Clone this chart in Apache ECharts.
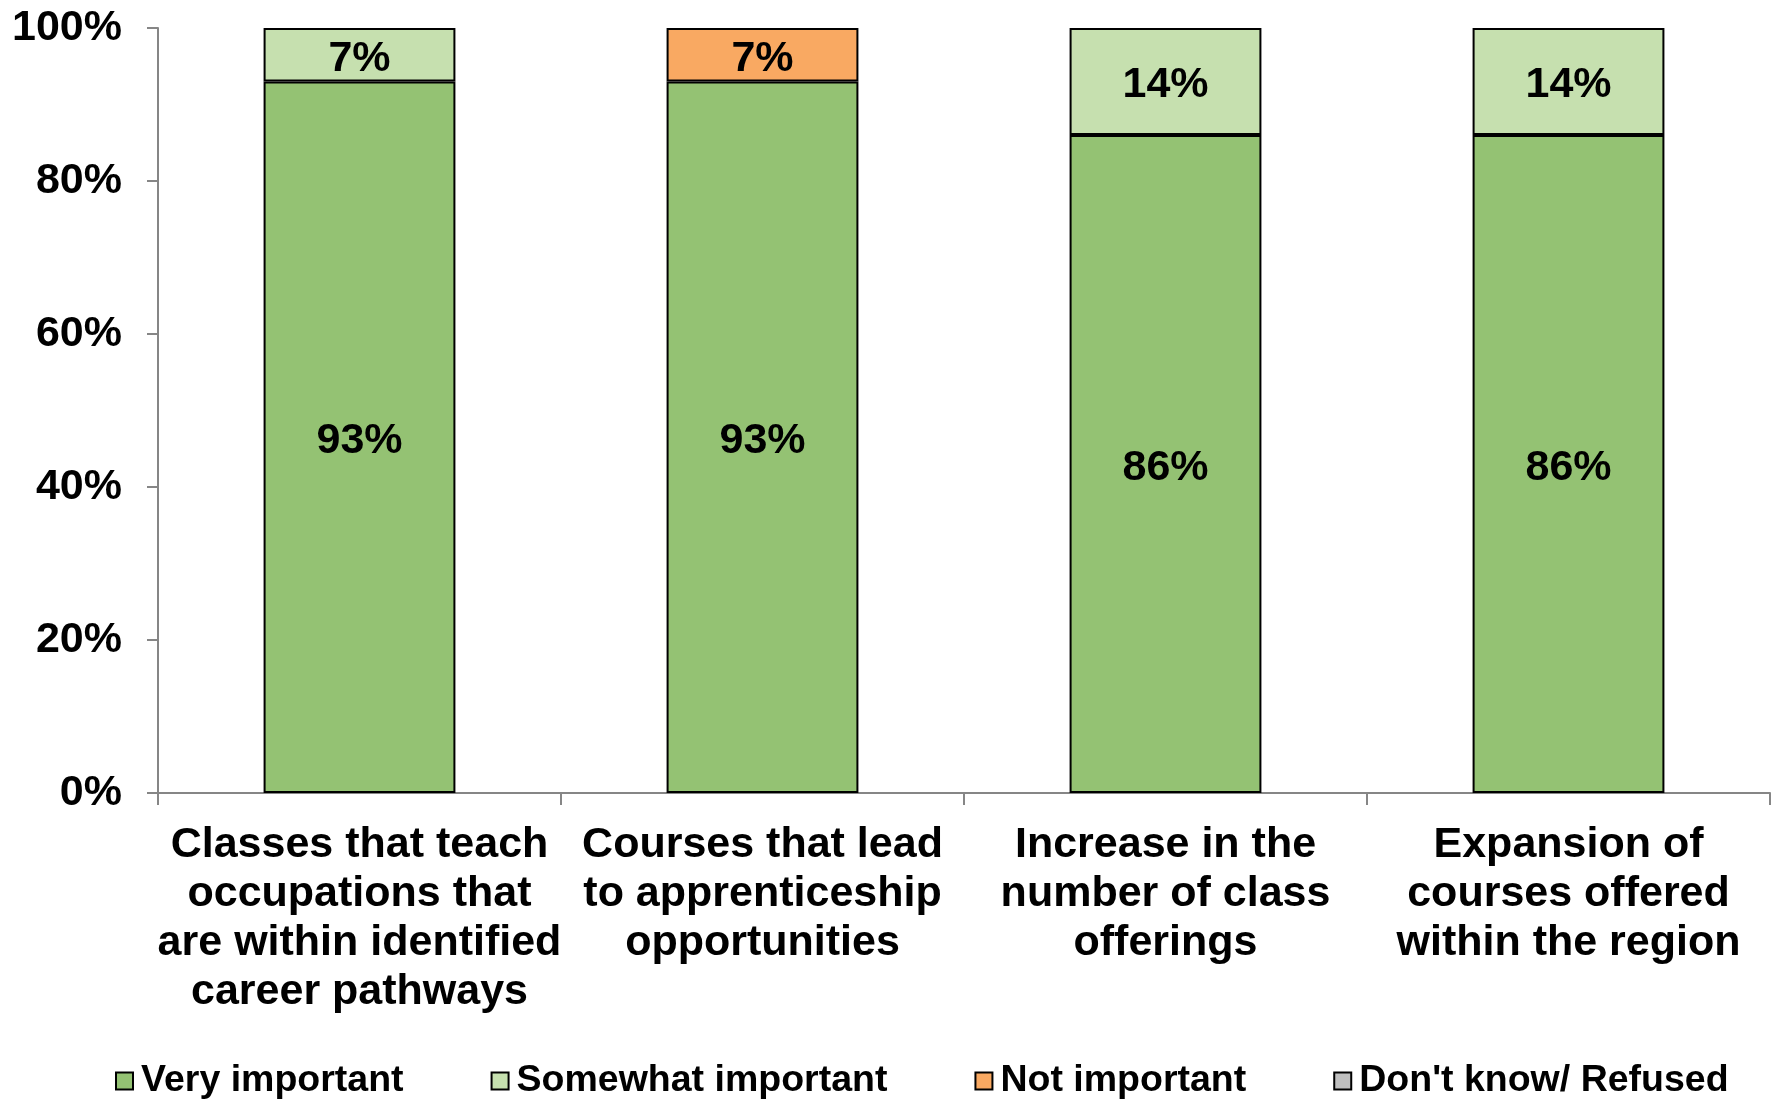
<!DOCTYPE html>
<html>
<head>
<meta charset="utf-8">
<script src="https://cdn.jsdelivr.net/npm/echarts@6/dist/echarts.min.js"></script>
<style>
html,body{margin:0;padding:0;background:#fff;}
#chart{width:1771px;height:1100px;}
</style>
</head>
<body>
<div id="chart"></div>
<script>
const categories = [
  "Classes that teach\noccupations that\nare within identified\ncareer pathways",
  "Courses that lead\nto apprenticeship\nopportunities",
  "Increase in the\nnumber of class\nofferings",
  "Expansion of\ncourses offered\nwithin the region"
];
const seriesNames = ["Very important", "Somewhat important", "Not important", "Don't know/ Refused"];
const veryImportant = [93, 93, 86, 86];
const somewhatImportant = [7, 0, 14, 14];
const notImportant = [0, 7, 0, 0];
const dontKnow = [0, 0, 0, 0];
const yTicks = [0, 20, 40, 60, 80, 100];

const colors = ["#94C273", "#C6E0AF", "#F9A962", "#BFBFBF"];
const FONT = "'Liberation Sans', Arial, sans-serif";
const allData = [veryImportant, somewhatImportant, notImportant, dontKnow];

const chart = echarts.init(document.getElementById('chart'), null, {renderer: 'canvas'});
chart.setOption({
  animation: false,
  backgroundColor: '#fff',
  grid: {left: 158, right: 1, top: 28, bottom: 307, containLabel: false},
  legend: {
    left: 110, top: 1055,
    itemWidth: 17, itemHeight: 17, itemGap: 87,
    icon: 'rect',
    textStyle: {fontFamily: FONT, fontWeight: 'bold', fontSize: 37.5, color: '#000', lineHeight: 42, padding: [0, 0, 0, 3]},
    data: seriesNames
  },
  xAxis: {
    type: 'category',
    data: categories,
    axisLine: {show: true, lineStyle: {color: '#868686', width: 2}},
    axisTick: {show: true, length: 12, lineStyle: {color: '#868686', width: 2}},
    axisLabel: {fontFamily: FONT, fontWeight: 'bold', fontSize: 43, color: '#000', lineHeight: 49, margin: 28, interval: 0}
  },
  yAxis: {
    type: 'value', min: yTicks[0], max: yTicks[yTicks.length - 1], interval: 20,
    axisLine: {show: true, lineStyle: {color: '#868686', width: 2}},
    axisTick: {show: true, length: 11, lineStyle: {color: '#868686', width: 2}},
    splitLine: {show: false},
    axisLabel: {fontFamily: FONT, fontWeight: 'bold', fontSize: 43, color: '#000', margin: 36, formatter: '{value}%'}
  },
  series: seriesNames.map((name, i) => ({
    name: name,
    type: 'bar',
    stack: 'total',
    barWidth: '47.6%',
    data: allData[i].map(v => v === 0 ? '-' : v),
    itemStyle: {color: colors[i], borderColor: '#000', borderWidth: 2},
    label: {
      show: true, position: 'inside', offset: [0, 4],
      fontFamily: FONT, fontWeight: 'bold', fontSize: 43, color: '#000',
      formatter: p => p.value + '%'
    }
  }))
});
</script>
</body>
</html>
